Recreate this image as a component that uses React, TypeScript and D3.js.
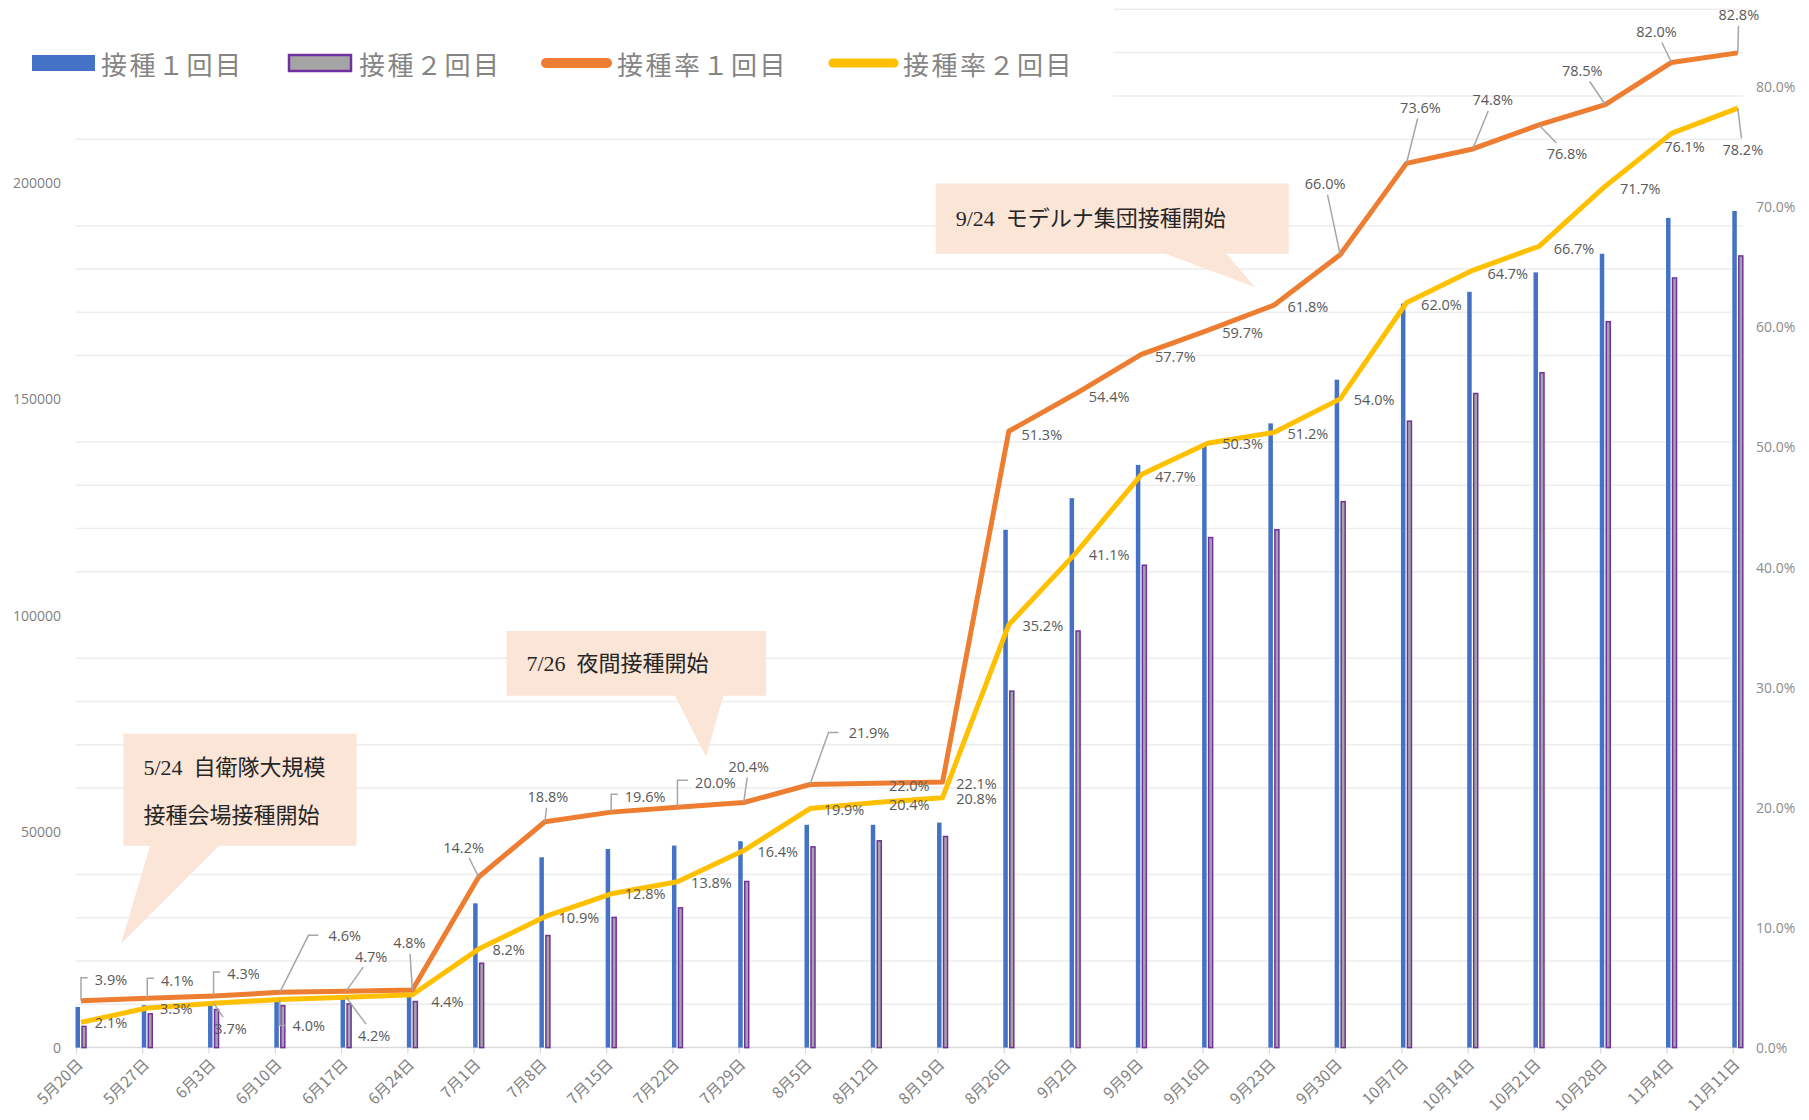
import React from "react";
import * as d3 from "d3";

// weekly dates (x categories)
const dates = [
  "5月20日", "5月27日", "6月3日", "6月10日", "6月17日", "6月24日", "7月1日", "7月8日",
  "7月15日", "7月22日", "7月29日", "8月5日", "8月12日", "8月19日", "8月26日", "9月2日",
  "9月9日", "9月16日", "9月23日", "9月30日", "10月7日", "10月14日", "10月21日", "10月28日",
  "11月4日", "11月11日",
];

// 接種1回目 / 2回目 (counts, left axis)
const dose1 = [
  9400, 9800, 10000, 11000, 11400, 11800, 33350, 44000, 45900, 46700, 47700, 51500, 51500,
  52000, 119700, 127000, 134700, 139200, 144300, 154400, 172000, 174700, 179200, 183500,
  191800, 193400,
];
const dose2 = [
  4900, 7800, 8800, 9700, 10100, 10650, 19500, 25900, 30100, 32300, 38400, 46400, 47800,
  48800, 82400, 96300, 111500, 117900, 119700, 126200, 144800, 151200, 156000, 167800,
  177900, 183000,
];

// 接種率 (right axis)
const rate1 = [
  3.9, 4.1, 4.3, 4.6, 4.7, 4.8, 14.2, 18.8, 19.6, 20.0, 20.4, 21.9, 22.0, 22.1, 51.3, 54.4,
  57.7, 59.7, 61.8, 66.0, 73.6, 74.8, 76.8, 78.5, 82.0, 82.8,
];
const rate2 = [
  2.1, 3.3, 3.7, 4.0, 4.2, 4.4, 8.2, 10.9, 12.8, 13.8, 16.4, 19.9, 20.4, 20.8, 35.2, 41.1,
  47.7, 50.3, 51.2, 54.0, 62.0, 64.7, 66.7, 71.7, 76.1, 78.2,
];

const leftTicks = [0, 50000, 100000, 150000, 200000];
const rightTicks = [0, 10, 20, 30, 40, 50, 60, 70, 80];

const legendItems = ["接種１回目", "接種２回目", "接種率１回目", "接種率２回目"];

const notes = [
  ["5/24  自衛隊大規模", "接種会場接種開始"],
  ["7/26  夜間接種開始"],
  ["9/24  モデルナ集団接種開始"],
];

// label placement: [dx, dy, leader kind] (0 none, 1 straight, 2 bracket, 3 diagonal+flat)
const lab1 = [
  [30, -21, 2], [30, -18, 2], [30, -22, 2], [65, -57, 3], [25, -35, 1], [-3, -47, 1],
  [-15, -30, 1], [3, -25, 1], [34, -16, 2], [38, -25, 2], [5, -36, 1], [59, -52, 3],
  [33, 2, 0], [34, 1, 0], [33, 3, 0], [34, 2, 0], [34, 2, 0], [35, 2, 0], [34, 1, 0],
  [-15, -71, 1], [14, -56, 1], [20, -49, 1], [28, 29, 1], [-23, -34, 1], [-15, -31, 1],
  [1, -38, 1],
];
const lab2 = [
  [30, 0, 0], [29, 1, 0], [17, 25, 1], [29, 26, 2], [28, 38, 1], [35, 7, 0], [30, 0, 0],
  [34, 1, 0], [34, 0, 0], [34, 1, 0], [34, 1, 0], [34, 1, 0], [33, 2, 0], [34, 1, 0],
  [34, 1, 0], [34, 1, 0], [34, 2, 0], [35, 0, 0], [34, 1, 0], [34, 1, 0], [35, 2, 0],
  [35, 3, 0], [35, 2, 0], [35, 2, 0], [13, 13, 0], [5, 41, 1],
];

const W = 1809;
const H = 1120;
const base = 1047.6;

const x = d3.scalePoint<string>().domain(dates).range([81, 1737.8]);
const yL = d3.scaleLinear().domain([0, 200000]).range([base, 182.4]);
const yR = d3.scaleLinear().domain([0, 80]).range([base, 86.5]);

const labelFont = '"Open Sans", "Noto Sans", sans-serif';
const cjk = '"Noto Sans CJK JP", sans-serif';
const noteFont = '"Liberation Serif", "Noto Sans CJK JP", serif';

function textW(s: string) {
  let w = 0;
  for (const ch of s) w += ch === "." ? 3.8 : ch === "%" ? 12.3 : 8.3;
  return w;
}

function DataLabels({ values, offs }: { values: number[]; offs: number[][] }) {
  return (
    <g>
      {values.map((v, i) => {
        const px = x(dates[i])!;
        const py = yR(v);
        const [dx, dy, kind] = offs[i];
        const cx = px + dx;
        const cy = py + dy;
        const txt = v.toFixed(1) + "%";
        const w = textW(txt);
        const left = cx - w / 2;
        let leader: string | null = null;
        if (kind === 1) {
          const s = Math.min(
            Math.abs(dx) > 0 ? (w / 2 + 3) / Math.abs(dx) : Infinity,
            Math.abs(dy) > 0 ? 11 / Math.abs(dy) : Infinity
          );
          if (s < 1) leader = `M${px},${py}L${cx - dx * s},${cy - dy * s}`;
        } else if (kind === 2) {
          const ly = dy < 0 ? cy - 2 : cy;
          leader = `M${px},${py}L${px},${ly}L${left - 7},${ly}`;
        } else if (kind === 3) {
          leader = `M${px},${py}L${left - 20},${cy}L${left - 10},${cy}`;
        }
        return (
          <g key={i}>
            {leader && <path d={leader} fill="none" stroke="#a6a6a6" strokeWidth={1.5} />}
            <text
              x={cx}
              y={cy}
              textAnchor="middle"
              dominantBaseline="central"
              fontFamily={labelFont}
              fontSize={14.5}
              fill="#595959"
            >
              {txt}
            </text>
          </g>
        );
      })}
    </g>
  );
}

function Callout({ box, base: b, tip, lines, lineGap }: any) {
  const [x0, y0, x1, y1] = box;
  const d = `M${x0},${y0}H${x1}V${y1}H${b[1]}L${tip[0]},${tip[1]}L${b[0]},${y1}H${x0}Z`;
  return (
    <g>
      <path d={d} fill="#fbe5d6" />
      {lines.map((t: string, i: number) => (
        <text
          key={i}
          x={x0 + 20}
          y={(lines.length === 1 ? (y0 + y1) / 2 : y0 + 34 + i * lineGap)}
          dominantBaseline="central"
          fontFamily={noteFont}
          fontSize={22}
          fill="#262626"
          style={{ whiteSpace: "pre" }}
        >
          {t}
        </text>
      ))}
    </g>
  );
}

export default function App() {
  const grid = d3.range(10000, 250000, 10000).filter((v) => v % 50000 !== 0);
  const lineGen = d3
    .line<number>()
    .x((_, i) => x(dates[i])!)
    .y((v) => yR(v));

  return (
    <svg
      width={W}
      height={H}
      style={{ position: "absolute", left: 0, top: 0, display: "block", background: "#fff" }}
    >
      {/* gridlines */}
      {grid.map((v) => (
        <line
          key={v}
          x1={v > 210000 ? 1113 : 75.7}
          x2={1742.7}
          y1={yL(v)}
          y2={yL(v)}
          stroke="#ededed"
          strokeWidth={1.5}
        />
      ))}

      {/* x axis */}
      <line x1={75.7} x2={1738} y1={base} y2={base} stroke="#d9d9d9" strokeWidth={1.5} />
      {dates.map((dt) => (
        <line key={dt} x1={x(dt)! - 4.5} x2={x(dt)! - 4.5} y1={base} y2={base + 6} stroke="#d9d9d9" strokeWidth={1.2} />
      ))}
      {dates.map((dt) => (
        <text
          key={dt}
          transform={`translate(${x(dt)! - 1},${base + 14}) rotate(-45)`}
          textAnchor="end"
          dy="0.35em"
          fontFamily={cjk}
          fontSize={15.5}
          fill="#7f7f7f"
        >
          {dt}
        </text>
      ))}

      {/* left axis labels */}
      {leftTicks.map((v) => (
        <text key={v} x={61} y={yL(v)} textAnchor="end" dominantBaseline="central" fontFamily={labelFont} fontSize={14} fill="#808080">
          {v}
        </text>
      ))}
      {/* right axis labels */}
      {rightTicks.map((v) => (
        <text key={v} x={1756} y={yR(v)} dominantBaseline="central" fontFamily={labelFont} fontSize={14} fill="#8c8c8c">
          {v.toFixed(1)}%
        </text>
      ))}

      {/* bars */}
      {dose1.map((v, i) => (
        <rect key={"a" + i} x={x(dates[i])! - 5.5} width={4.5} y={yL(v)} height={base - yL(v)} fill="#4472c4" />
      ))}
      {dose2.map((v, i) => (
        <rect
          key={"b" + i}
          x={x(dates[i])! + 1}
          width={4}
          y={yL(v)}
          height={base - yL(v)}
          fill="#a5a5a5"
          stroke="#7030a0"
          strokeWidth={1.5}
        />
      ))}

      {/* lines */}
      <path d={lineGen(rate2)!} fill="none" stroke="#ffc000" strokeWidth={5} strokeLinejoin="round" />
      <path d={lineGen(rate1)!} fill="none" stroke="#ed7d31" strokeWidth={5} strokeLinejoin="round" />

      <DataLabels values={rate1} offs={lab1} />
      <DataLabels values={rate2} offs={lab2} />

      {/* callouts */}
      <Callout box={[123.4, 733.8, 356.5, 845.7]} base={[150, 219]} tip={[121, 943.7]} lines={notes[0]} lineGap={48} />
      <Callout box={[506.5, 631, 766, 695.7]} base={[675, 723.4]} tip={[706, 756.8]} lines={notes[1]} lineGap={0} />
      <Callout box={[935.7, 183.4, 1288.7, 253.8]} base={[1165.3, 1226.4]} tip={[1255.2, 287.3]} lines={notes[2]} lineGap={0} />

      {/* legend */}
      <g>
        <rect x={32} y={55} width={63} height={16} fill="#4472c4" />
        <rect x={289} y={55} width={62} height={16} fill="#a5a5a5" stroke="#7030a0" strokeWidth={2.5} />
        <line x1={546} x2={607} y1={63} y2={63} stroke="#ed7d31" strokeWidth={10} strokeLinecap="round" />
        <line x1={833} x2={894} y1={63} y2={63} stroke="#ffc000" strokeWidth={9} strokeLinecap="round" />
        {legendItems.map((t, i) => (
          <text
            key={t}
            x={[101, 359, 617, 903][i]}
            y={63}
            dominantBaseline="central"
            fontFamily={cjk}
            fontSize={26}
            letterSpacing={2.5}
            fill="#858585"
          >
            {t}
          </text>
        ))}
      </g>
    </svg>
  );
}
